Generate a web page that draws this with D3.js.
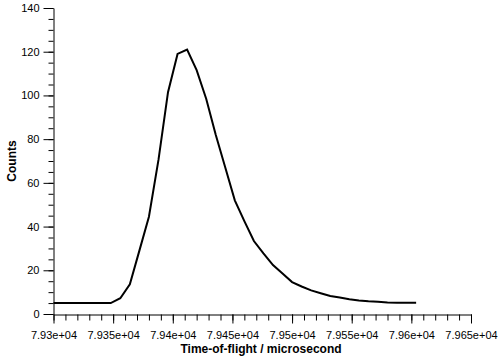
<!DOCTYPE html>
<html>
<head>
<meta charset="utf-8">
<script src="https://cdn.jsdelivr.net/npm/d3@7"></script>
<style>
  html, body { margin: 0; padding: 0; background: #fff; }
  svg { display: block; }
</style>
</head>
<body>
<svg id="chart" width="500" height="359"></svg>
<script>
// Data (time-of-flight in microseconds, counts)
const tof = [79300, 79308, 79316, 79324, 79332, 79340, 79348, 79356, 79364, 79372,
             79380, 79388, 79396, 79404, 79412, 79420, 79428, 79436, 79444, 79452,
             79460, 79468, 79476, 79484, 79492, 79500, 79508, 79516, 79524, 79532,
             79540, 79548, 79556, 79564, 79572, 79580, 79588, 79596, 79604];
const counts = [5, 5, 5, 5, 5, 5, 5, 7.2, 13.6, 29,
                44.5, 70.5, 101.5, 119, 121, 111.6, 98.5, 82, 67, 52,
                42.5, 33.4, 27.7, 22.4, 18.5, 14.6, 12.6, 10.8, 9.5, 8.2,
                7.5, 6.7, 6.2, 5.8, 5.6, 5.3, 5.2, 5.1, 5.1];

const xTickValues = [79300, 79350, 79400, 79450, 79500, 79550, 79600, 79650];
const xTickLabels = ["7.93e+04", "7.935e+04", "7.94e+04", "7.945e+04", "7.95e+04", "7.955e+04", "7.96e+04", "7.965e+04"];
const yTickValues = [0, 20, 40, 60, 80, 100, 120, 140];
const yTickLabels = ["0", "20", "40", "60", "80", "100", "120", "140"];
const xTitle = "Time-of-flight / microsecond";
const yTitle = "Counts";

const svg = d3.select("#chart");
const font = "'Liberation Sans', Arial, sans-serif";

const x = d3.scaleLinear().domain([79300, 79650]).range([53.5, 471]);
const y = d3.scaleLinear().domain([0, 140]).range([314, 8]);

const xMinor = d3.range(79300, 79650 + 1e-6, 10);
const yMinor = d3.range(0, 140 + 1e-6, 5);

// minor ticks
svg.append("g")
  .attr("transform", "translate(0,314.5)")
  .call(d3.axisBottom(x).tickValues(xMinor).tickSize(6).tickFormat(""))
  .call(g => g.select(".domain").remove())
  .call(g => g.selectAll("line").attr("stroke", "#000"));
svg.append("g")
  .attr("transform", "translate(53.5,0)")
  .call(d3.axisLeft(y).tickValues(yMinor).tickSize(5).tickFormat(""))
  .call(g => g.select(".domain").remove())
  .call(g => g.selectAll("line").attr("stroke", "#000"));

// major axes
const xAxis = svg.append("g")
  .attr("transform", "translate(0,314.5)")
  .call(d3.axisBottom(x).tickValues(xTickValues).tickSize(9).tickSizeOuter(0)
        .tickPadding(8)
        .tickFormat((d, i) => xTickLabels[i]));
xAxis.select(".domain").attr("stroke", "#000");
xAxis.selectAll("line").attr("stroke", "#000");
xAxis.selectAll("text").attr("font-family", font).attr("font-size", 11).attr("fill", "#000");

const yAxis = svg.append("g")
  .attr("transform", "translate(53.5,0)")
  .call(d3.axisLeft(y).tickValues(yTickValues).tickSize(10).tickSizeOuter(0)
        .tickPadding(4)
        .tickFormat((d, i) => yTickLabels[i]));
yAxis.select(".domain").attr("stroke", "#000");
yAxis.selectAll("line").attr("stroke", "#000");
yAxis.selectAll("text").attr("font-family", font).attr("font-size", 11).attr("fill", "#000");

// line
const pts = tof.map((t, i) => [t, counts[i]]);
svg.append("path")
  .datum(pts)
  .attr("fill", "none")
  .attr("stroke", "#000")
  .attr("stroke-width", 2)
  .attr("stroke-linejoin", "miter")
  .attr("d", d3.line().x(d => x(d[0])).y(d => y(d[1])));

// titles
svg.append("text")
  .attr("x", 261).attr("y", 353)
  .attr("text-anchor", "middle")
  .attr("font-family", font).attr("font-size", 12).attr("font-weight", "bold")
  .text(xTitle);
svg.append("text")
  .attr("transform", "translate(16,161) rotate(-90)")
  .attr("text-anchor", "middle")
  .attr("font-family", font).attr("font-size", 12).attr("font-weight", "bold")
  .text(yTitle);
</script>
</body>
</html>
